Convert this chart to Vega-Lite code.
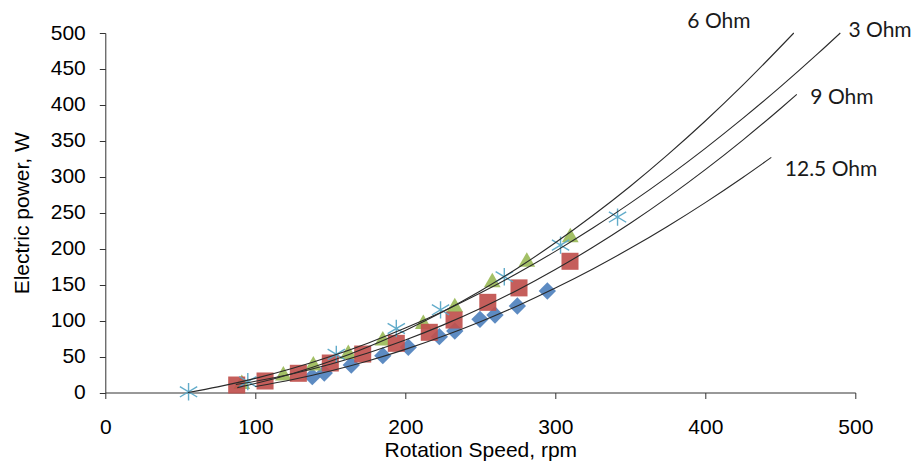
{
  "$schema": "https://vega.github.io/schema/vega-lite/v6.json",
  "width": 750,
  "height": 359.5,
  "autosize": {"type": "none"},
  "padding": {"left": 105.3, "top": 33, "right": 59.7, "bottom": 70.5},
  "background": "white",
  "config": {
    "view": {"stroke": null},
    "axis": {
      "grid": false,
      "labelFont": "Liberation Sans",
      "labelFontSize": 21,
      "labelColor": "#000",
      "labelOverlap": false,
      "labelFlush": false,
      "domainColor": "#333",
      "tickColor": "#333",
      "tickSize": 6,
      "titleFont": "Liberation Sans",
      "titleFontSize": 21,
      "titleFontWeight": "normal",
      "titleColor": "#000"
    }
  },
  "datasets": {
    "curves": [
      {"s": "6 Ohm", "rpm": 88, "p": 6.7},
      {"s": "6 Ohm", "rpm": 100, "p": 12.4},
      {"s": "6 Ohm", "rpm": 125, "p": 26.4},
      {"s": "6 Ohm", "rpm": 150, "p": 43.4},
      {"s": "6 Ohm", "rpm": 175, "p": 63.4},
      {"s": "6 Ohm", "rpm": 200, "p": 86.4},
      {"s": "6 Ohm", "rpm": 225, "p": 112.4},
      {"s": "6 Ohm", "rpm": 250, "p": 141.3},
      {"s": "6 Ohm", "rpm": 275, "p": 173.2},
      {"s": "6 Ohm", "rpm": 300, "p": 208.2},
      {"s": "6 Ohm", "rpm": 325, "p": 246.1},
      {"s": "6 Ohm", "rpm": 350, "p": 286.9},
      {"s": "6 Ohm", "rpm": 375, "p": 330.8},
      {"s": "6 Ohm", "rpm": 400, "p": 377.6},
      {"s": "6 Ohm", "rpm": 425, "p": 427.4},
      {"s": "6 Ohm", "rpm": 459, "p": 500},
      {"s": "3 Ohm", "rpm": 55, "p": 0},
      {"s": "3 Ohm", "rpm": 75, "p": 7.8},
      {"s": "3 Ohm", "rpm": 100, "p": 19.6},
      {"s": "3 Ohm", "rpm": 125, "p": 33.6},
      {"s": "3 Ohm", "rpm": 150, "p": 50},
      {"s": "3 Ohm", "rpm": 175, "p": 68.6},
      {"s": "3 Ohm", "rpm": 200, "p": 89.6},
      {"s": "3 Ohm", "rpm": 225, "p": 112.8},
      {"s": "3 Ohm", "rpm": 250, "p": 138.3},
      {"s": "3 Ohm", "rpm": 275, "p": 166.2},
      {"s": "3 Ohm", "rpm": 300, "p": 196.3},
      {"s": "3 Ohm", "rpm": 325, "p": 228.7},
      {"s": "3 Ohm", "rpm": 350, "p": 263.4},
      {"s": "3 Ohm", "rpm": 375, "p": 300.3},
      {"s": "3 Ohm", "rpm": 400, "p": 339.6},
      {"s": "3 Ohm", "rpm": 425, "p": 381.2},
      {"s": "3 Ohm", "rpm": 450, "p": 425},
      {"s": "3 Ohm", "rpm": 475, "p": 471.2},
      {"s": "3 Ohm", "rpm": 490, "p": 500},
      {"s": "9 Ohm", "rpm": 87, "p": 11.2},
      {"s": "9 Ohm", "rpm": 100, "p": 15.7},
      {"s": "9 Ohm", "rpm": 125, "p": 26.2},
      {"s": "9 Ohm", "rpm": 150, "p": 39.2},
      {"s": "9 Ohm", "rpm": 175, "p": 54.8},
      {"s": "9 Ohm", "rpm": 200, "p": 73},
      {"s": "9 Ohm", "rpm": 225, "p": 93.7},
      {"s": "9 Ohm", "rpm": 250, "p": 116.9},
      {"s": "9 Ohm", "rpm": 275, "p": 142.7},
      {"s": "9 Ohm", "rpm": 300, "p": 171.1},
      {"s": "9 Ohm", "rpm": 325, "p": 202},
      {"s": "9 Ohm", "rpm": 350, "p": 235.4},
      {"s": "9 Ohm", "rpm": 375, "p": 271.4},
      {"s": "9 Ohm", "rpm": 400, "p": 310},
      {"s": "9 Ohm", "rpm": 425, "p": 351.1},
      {"s": "9 Ohm", "rpm": 450, "p": 394.7},
      {"s": "9 Ohm", "rpm": 461, "p": 414.7},
      {"s": "12.5 Ohm", "rpm": 100, "p": 8.3},
      {"s": "12.5 Ohm", "rpm": 125, "p": 18.1},
      {"s": "12.5 Ohm", "rpm": 150, "p": 30},
      {"s": "12.5 Ohm", "rpm": 175, "p": 43.9},
      {"s": "12.5 Ohm", "rpm": 200, "p": 60},
      {"s": "12.5 Ohm", "rpm": 225, "p": 78.2},
      {"s": "12.5 Ohm", "rpm": 250, "p": 98.5},
      {"s": "12.5 Ohm", "rpm": 275, "p": 120.8},
      {"s": "12.5 Ohm", "rpm": 300, "p": 145.3},
      {"s": "12.5 Ohm", "rpm": 325, "p": 171.9},
      {"s": "12.5 Ohm", "rpm": 350, "p": 200.5},
      {"s": "12.5 Ohm", "rpm": 375, "p": 231.3},
      {"s": "12.5 Ohm", "rpm": 400, "p": 264.1},
      {"s": "12.5 Ohm", "rpm": 425, "p": 299.1},
      {"s": "12.5 Ohm", "rpm": 444, "p": 327}
    ],
    "points": [
      {"s": "12.5 Ohm", "rpm": 138, "p": 22},
      {"s": "12.5 Ohm", "rpm": 146, "p": 27},
      {"s": "12.5 Ohm", "rpm": 164, "p": 38.2},
      {"s": "12.5 Ohm", "rpm": 185, "p": 51.2},
      {"s": "12.5 Ohm", "rpm": 202, "p": 62.9},
      {"s": "12.5 Ohm", "rpm": 222.7, "p": 77.6},
      {"s": "12.5 Ohm", "rpm": 233, "p": 85.5},
      {"s": "12.5 Ohm", "rpm": 249.8, "p": 101.8},
      {"s": "12.5 Ohm", "rpm": 259.8, "p": 107.8},
      {"s": "12.5 Ohm", "rpm": 274.7, "p": 120.3},
      {"s": "12.5 Ohm", "rpm": 294.7, "p": 141.2},
      {"s": "9 Ohm", "rpm": 87.6, "p": 10.4},
      {"s": "9 Ohm", "rpm": 106.5, "p": 16},
      {"s": "9 Ohm", "rpm": 128.7, "p": 26.7},
      {"s": "9 Ohm", "rpm": 150, "p": 41},
      {"s": "9 Ohm", "rpm": 171.6, "p": 53.5},
      {"s": "9 Ohm", "rpm": 194, "p": 68.4},
      {"s": "9 Ohm", "rpm": 216, "p": 83.7},
      {"s": "9 Ohm", "rpm": 232.5, "p": 100.8},
      {"s": "9 Ohm", "rpm": 255, "p": 125.4},
      {"s": "9 Ohm", "rpm": 275.8, "p": 145.5},
      {"s": "9 Ohm", "rpm": 309.8, "p": 182.5},
      {"s": "6 Ohm", "rpm": 91, "p": 15},
      {"s": "6 Ohm", "rpm": 118.7, "p": 26.7},
      {"s": "6 Ohm", "rpm": 138.7, "p": 40.6},
      {"s": "6 Ohm", "rpm": 162, "p": 56.7},
      {"s": "6 Ohm", "rpm": 185, "p": 75.4},
      {"s": "6 Ohm", "rpm": 212, "p": 98.5},
      {"s": "6 Ohm", "rpm": 233, "p": 121.7},
      {"s": "6 Ohm", "rpm": 258, "p": 156.5},
      {"s": "6 Ohm", "rpm": 281, "p": 185},
      {"s": "6 Ohm", "rpm": 310, "p": 219}
    ],
    "stars": [
      {"s": "3 Ohm", "rpm": 55.5, "p": 1},
      {"s": "3 Ohm", "rpm": 95, "p": 15},
      {"s": "3 Ohm", "rpm": 154, "p": 53},
      {"s": "3 Ohm", "rpm": 194, "p": 89},
      {"s": "3 Ohm", "rpm": 223.5, "p": 115},
      {"s": "3 Ohm", "rpm": 266, "p": 161},
      {"s": "3 Ohm", "rpm": 303.5, "p": 205},
      {"s": "3 Ohm", "rpm": 341.5, "p": 244}
    ],
    "labels": [
      {"label": "6 Ohm", "rpm": 409.1, "p": 515.3},
      {"label": "3 Ohm", "rpm": 516.5, "p": 502.8},
      {"label": "9 Ohm", "rpm": 491.1, "p": 409.6},
      {"label": "12.5 Ohm", "rpm": 483.8, "p": 309.4}
    ]
  },
  "encoding": {
    "x": {"field": "rpm", "type": "quantitative", "scale": {"domain": [0, 500], "nice": false, "zero": false},
      "axis": {"values": [0, 100, 200, 300, 400, 500], "tickCount": 20, "title": "Rotation Speed, rpm", "labelPadding": 18, "titlePadding": 2}},
    "y": {"field": "p", "type": "quantitative", "scale": {"domain": [0, 500], "nice": false, "zero": false},
      "axis": {"values": [0, 50, 100, 150, 200, 250, 300, 350, 400, 450, 500], "tickCount": 20, "title": "Electric power, W", "labelPadding": 14, "titlePadding": 18}}
  },
  "layer": [
    {
      "data": {"name": "points"},
      "mark": {"type": "point", "filled": true, "opacity": 0.92, "strokeWidth": 0.6},
      "encoding": {
        "shape": {"field": "s", "type": "nominal", "legend": null,
          "scale": {"domain": ["12.5 Ohm", "9 Ohm", "6 Ohm"], "range": ["diamond", "square", "triangle-up"]}},
        "color": {"field": "s", "type": "nominal", "legend": null,
          "scale": {"domain": ["12.5 Ohm", "9 Ohm", "6 Ohm"], "range": ["#4F81BD", "#C0504D", "#9BBB59"]}},
        "size": {"field": "s", "type": "nominal", "legend": null,
          "scale": {"domain": ["12.5 Ohm", "9 Ohm", "6 Ohm"], "range": [300, 280, 380]}},
        "order": {"field": "s", "type": "nominal"}
      }
    },
    {
      "data": {"name": "stars"},
      "mark": {"type": "point", "filled": false, "shape": "M0,-1L0,1M-1,-0.6L1,0.6M-1,0.6L1,-0.6", "size": 300, "stroke": "#5AA8C8", "strokeWidth": 1.4, "opacity": 0.95},
      "encoding": {}
    },
    {
      "data": {"name": "curves"},
      "mark": {"type": "line", "interpolate": "monotone", "color": "#2a2a2a", "strokeWidth": 1.1},
      "encoding": {
        "detail": {"field": "s", "type": "nominal"}
      }
    },
    {
      "data": {"name": "labels"},
      "mark": {"type": "text", "font": "Lato", "fontSize": 21, "color": "#1a1a1a", "align": "center", "baseline": "middle"},
      "encoding": {
        "text": {"field": "label", "type": "nominal"}
      }
    }
  ]
}
